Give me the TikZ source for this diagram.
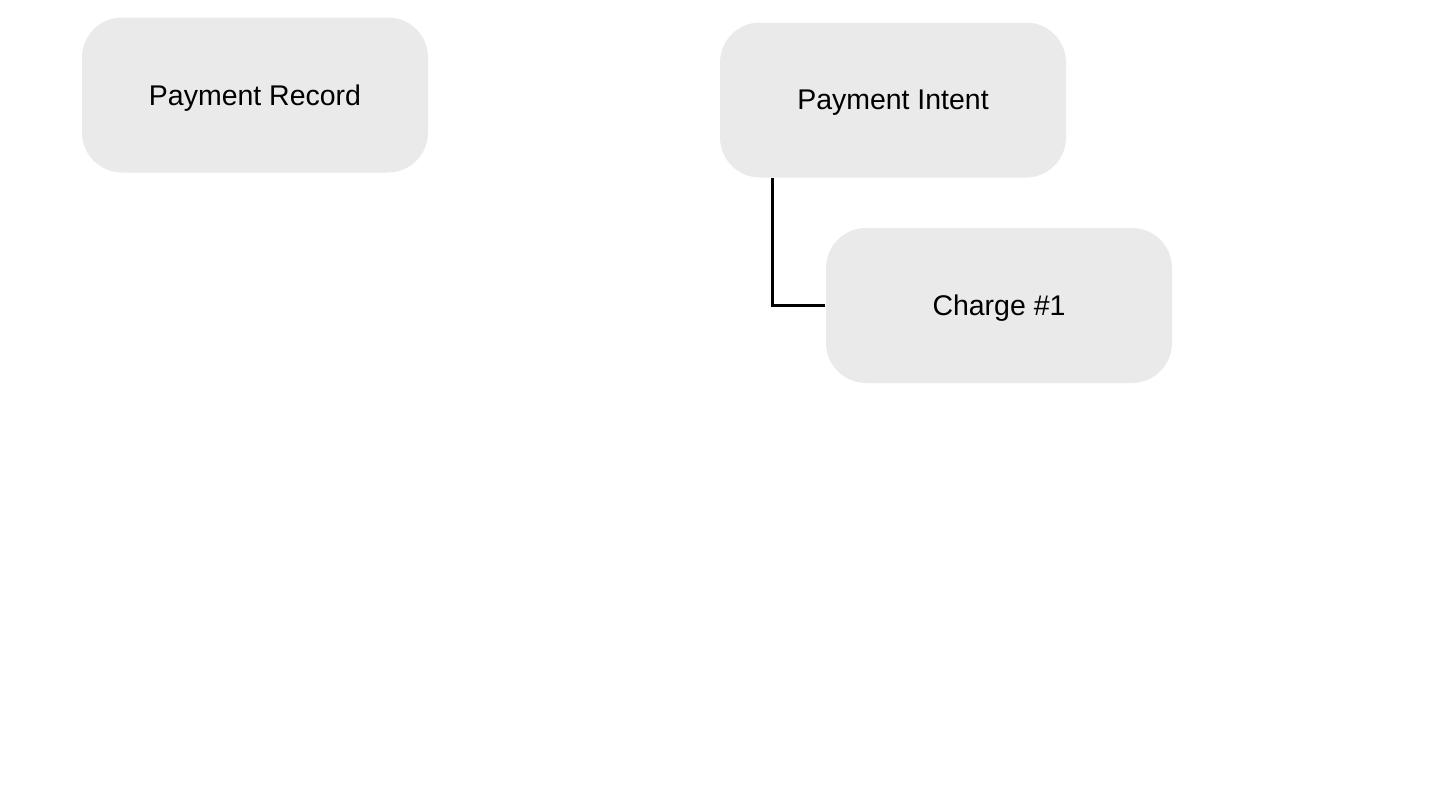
\documentclass[tikz,border=0pt]{standalone}
\usepackage{fontspec}
\setmainfont{Liberation Sans}
\definecolor{boxgray}{HTML}{EAEAEA}
\tikzset{
	box/.style={fill=boxgray, rounded corners=4mm, minimum width=3.46cm, minimum height=1.55cm, font=\fontsize{8.1}{10}\selectfont, inner sep=0pt, text depth=0pt},
}
\begin{document}
\begin{tikzpicture}
			\useasboundingbox (0,0) rectangle (14.4,8.1);
			\node[box] (R) at (2.55,7.15) {Payment Record};
			\node[box] (I) at (8.93,7.10) {Payment Intent};
			\node[box] (C) at (9.99,5.045) {Charge \#1};
			\draw[line width=1pt] ([xshift=5.3mm]I.south west) |- (C.west);
		\end{tikzpicture}
\end{document}
